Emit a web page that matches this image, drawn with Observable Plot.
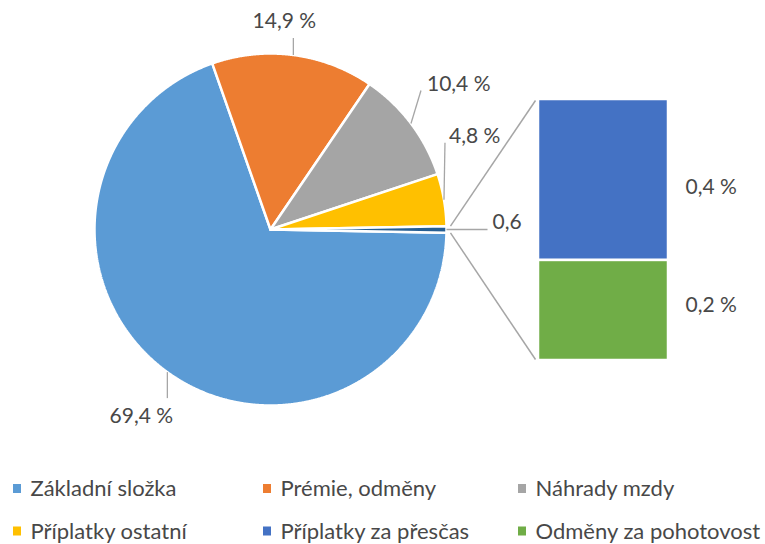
<!DOCTYPE html>
<html>
<head>
<meta charset="utf-8">
<script src="https://cdn.jsdelivr.net/npm/d3@7"></script>
<script src="https://cdn.jsdelivr.net/npm/@observablehq/plot@0.6"></script>
<style>
  html, body { margin: 0; padding: 0; background: #ffffff; }
  #chart svg { display: block; }
</style>
</head>
<body>
<div id="chart"></div>
<script>
// ---------- data ----------
const categories = ["Základní složka", "Prémie, odměny", "Náhrady mzdy", "Příplatky ostatní", "Příplatky za přesčas", "Odměny za pohotovost"];
const categoryColors = ["#5B9BD5", "#ED7D31", "#A5A5A5", "#FFC000", "#4472C4", "#70AD47"];

const pieCategories = ["Základní složka", "Prémie, odměny", "Náhrady mzdy", "Příplatky ostatní", "Ostatní"];
const pieValues = [69.4, 14.9, 10.4, 4.8, 0.6];
const pieLabels = ["69,4 %", "14,9 %", "10,4 %", "4,8 %", "0,6"];
const pieColors = ["#5B9BD5", "#ED7D31", "#A5A5A5", "#FFC000", "#265E92"];

const barCategories = ["Příplatky za přesčas", "Odměny za pohotovost"];
const barValues = [0.37, 0.23];
const barLabels = ["0,4 %", "0,2 %"];
const barColors = ["#4472C4", "#70AD47"];

// ---------- layout ----------
const W = 765, H = 544;
const cx = 270, cy = 229, R = 176;
const bar = {x0: 538, x1: 668, top: 99, bottom: 360};
const textColor = "#484848";
const leaderColor = "#A6A6A6";
const font = "Lato, 'Open Sans', sans-serif";
// leader end offset (dx, dy) from slice edge, and text offset (tx, ty) from leader end
const pieLabelLayout = [
  {dx: 0, dy: 26, tx: -26, ty: 18, anchor: "middle"},
  {dx: 0, dy: -17, tx: -9, ty: -17, anchor: "middle"},
  {dx: 10, dy: -33, tx: 6, ty: -6, anchor: "start"},
  {dx: 1, dy: -57, tx: 4, ty: -7, anchor: "start"},
  {dx: 41, dy: 0, tx: 5, ty: -7, anchor: "start"}
];
const barLabelLayout = [{tx: 17, ty: 7.5}, {tx: 17, ty: -5}];
const legendCols = [13, 263, 518], legendRows = [488.5, 531];

// ---------- geometry from data ----------
const total = d3.sum(pieValues);
const other = pieValues[pieValues.length - 1];
const start = Math.PI / 2 - 2 * Math.PI * (total - other / 2) / total;
const arcs = d3.pie().sort(null).startAngle(start).endAngle(start + 2 * Math.PI)(pieValues);
const pt = (a, r) => ({x: cx + r * Math.sin(a), y: cy - r * Math.cos(a)});

function slicePolygon(arc) {
  const pts = [{x: cx, y: cy}];
  const n = Math.max(2, Math.ceil((arc.endAngle - arc.startAngle) / 0.004));
  for (let i = 0; i <= n; i++) pts.push(pt(arc.startAngle + (arc.endAngle - arc.startAngle) * i / n, R));
  pts.push({x: cx, y: cy});
  return pts;
}

const sliceMarks = arcs.map((a, i) =>
  Plot.line(slicePolygon(a), {x: "x", y: "y", fill: pieColors[i], stroke: "white", strokeWidth: 2.5, strokeLinejoin: "miter"})
);

// pie labels + leaders
const pieLabelRows = arcs.map((a, i) => {
  const mid = (a.startAngle + a.endAngle) / 2;
  const e = pt(mid, R);
  const L = pieLabelLayout[i];
  const lx = e.x + L.dx, ly = e.y + L.dy;
  return {label: pieLabels[i], ex: e.x, ey: e.y, lx, ly, tx: lx + L.tx, ty: ly + L.ty, anchor: L.anchor};
});

// bar segments
const barTotal = d3.sum(barValues);
const k = (bar.bottom - bar.top) / barTotal;
let cum = 0;
const barRows = barValues.map((v, i) => {
  const r = {name: barCategories[i], y1: bar.top + cum * k, y2: bar.top + (cum + v) * k, color: barColors[i], label: barLabels[i]};
  cum += v;
  return r;
});

// connector lines from "other" slice to bar
const oArc = arcs[arcs.length - 1];
const c1 = pt(oArc.startAngle, R + 4), c2 = pt(oArc.endAngle, R + 4);
const connectors = [
  {x1: c1.x, y1: c1.y, x2: bar.x0 - 3, y2: bar.top + 1},
  {x1: c2.x, y1: c2.y, x2: bar.x0 - 3, y2: bar.bottom - 1}
];

// legend
const legend = categories.map((c, i) => ({
  name: c, color: categoryColors[i],
  x: legendCols[i % 3], y: legendRows[Math.floor(i / 3)]
}));

const chart = Plot.plot({
  width: W, height: H, margin: 0,
  x: {type: "linear", domain: [0, W], range: [0, W], axis: null},
  y: {type: "linear", domain: [0, H], range: [0, H], axis: null},
  style: {background: "white", fontFamily: font},
  marks: [
    ...sliceMarks,
    Plot.link(pieLabelRows, {x1: "ex", y1: "ey", x2: "lx", y2: "ly", stroke: leaderColor, strokeWidth: 1.3}),
    Plot.text(pieLabelRows.filter(d => d.anchor === "middle"), {x: "tx", y: "ty", text: "label", textAnchor: "middle", fill: textColor, fontSize: 21, fontFamily: font}),
    Plot.text(pieLabelRows.filter(d => d.anchor === "start"), {x: "tx", y: "ty", text: "label", textAnchor: "start", fill: textColor, fontSize: 21, fontFamily: font}),
    Plot.link(connectors, {x1: "x1", y1: "y1", x2: "x2", y2: "y2", stroke: leaderColor, strokeWidth: 1.5}),
    Plot.rect(barRows, {x1: () => bar.x0, x2: () => bar.x1, y1: "y1", y2: "y2", fill: "color", stroke: "white", strokeWidth: 2.5}),
    Plot.text(barRows, {x: () => bar.x1 + barLabelLayout[0].tx, y: (d, i) => (d.y1 + d.y2) / 2 + barLabelLayout[i].ty, text: "label", textAnchor: "start", fill: textColor, fontSize: 21, fontFamily: font}),
    Plot.rect(legend, {x1: "x", x2: d => d.x + 8, y1: d => d.y - 4.5, y2: d => d.y + 4.5, fill: "color"}),
    Plot.text(legend, {x: d => d.x + 17, y: "y", text: "name", textAnchor: "start", fill: textColor, fontSize: 22, fontFamily: font})
  ]
});
document.getElementById("chart").appendChild(chart);
</script>
</body>
</html>
